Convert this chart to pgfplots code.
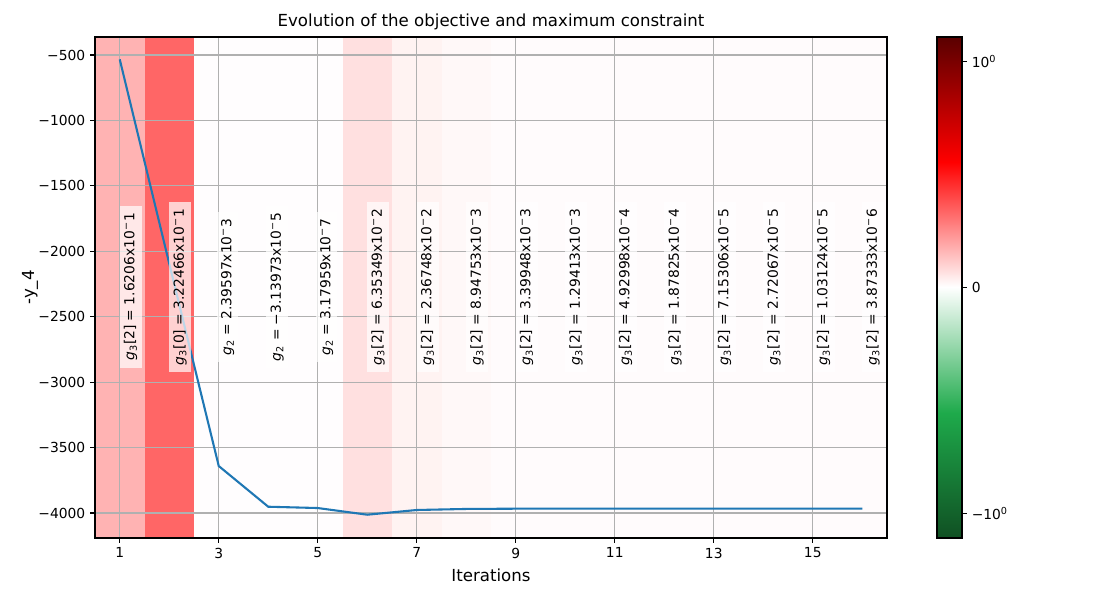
\documentclass[border=0pt]{standalone}
\usepackage{fontspec}
\setmainfont{DejaVu Sans}
\usepackage{pgfplots}
\pgfplotsset{compat=1.18}

\definecolor{lineblue}{HTML}{1F77B4}
\definecolor{gridgray}{HTML}{B0B0B0}
% band colours: maximum constraint of each iteration through the colormap
\definecolor{b1}{RGB}{255,179,179}
\definecolor{b2}{RGB}{255,102,102}
\definecolor{b3}{RGB}{255,253,254}
\definecolor{b6}{RGB}{255,224,224}
\definecolor{b7}{RGB}{255,243,242}
\definecolor{b8}{RGB}{255,248,248}
\definecolor{b9}{RGB}{255,251,252}

\pgfplotsset{
  colormap={greenwhitered}{rgb255=(16,80,35) rgb255=(30,170,75) rgb255=(255,255,255) rgb255=(255,0,0) rgb255=(90,0,0)},
  panel/.style={scale only axis, width=570.24bp, height=360.72bp,
    xmin=0.5, xmax=16.5, ymin=-4191, ymax=-362},
}

\newcommand{\gt}[2]{\textit{g}\textsubscript{3}[#1] = #2}
\newcommand{\gtwo}[1]{\textit{g}\textsubscript{2} = #1}
\newcommand{\ex}[2]{#1x10\textsuperscript{−}#2}

\begin{document}
\begin{tikzpicture}
\path[use as bounding box] (0,0) rectangle (792bp,432bp);

% coloured bands, one per iteration
\begin{axis}[panel, at={(68.4bp,44.64bp)}, anchor=south west, hide axis]
\addplot[draw=none, fill=b1] coordinates {(0.5,-4400) (0.5,-200) (1.5,-200) (1.5,-4400)} -- cycle;
\addplot[draw=none, fill=b2] coordinates {(1.5,-4400) (1.5,-200) (2.5,-200) (2.5,-4400)} -- cycle;
\addplot[draw=none, fill=b3] coordinates {(2.5,-4400) (2.5,-200) (5.5,-200) (5.5,-4400)} -- cycle;
\addplot[draw=none, fill=b6] coordinates {(5.5,-4400) (5.5,-200) (6.5,-200) (6.5,-4400)} -- cycle;
\addplot[draw=none, fill=b7] coordinates {(6.5,-4400) (6.5,-200) (7.5,-200) (7.5,-4400)} -- cycle;
\addplot[draw=none, fill=b8] coordinates {(7.5,-4400) (7.5,-200) (8.5,-200) (8.5,-4400)} -- cycle;
\addplot[draw=none, fill=b9] coordinates {(8.5,-4400) (8.5,-200) (16.5,-200) (16.5,-4400)} -- cycle;
\end{axis}

\begin{axis}[
  panel, at={(68.4bp,44.64bp)}, anchor=south west,
  font=\fontsize{10}{12}\selectfont,
  xtick={1,3,...,15},
  xticklabels={1,3,5,7,9,11,13,15},
  ytick={-4000,-3500,...,-500},
  yticklabels={−4000,−3500,−3000,−2500,−2000,−1500,−1000,−500},
  xtick pos=lower, ytick pos=left,
  tick align=outside, major tick length=3.5bp,
  tick style={black, line width=0.8bp},
  axis line style={line width=0.8bp},
  grid=major, grid style={gridgray, line width=0.8bp},
  title={Evolution of the objective and maximum constraint},
  every axis title/.style={at={(axis description cs:0.5,1)}, anchor=base, yshift=7.5bp, font=\fontsize{12}{14}\selectfont},
  xlabel={Iterations},
  every axis x label/.style={at={(axis description cs:0.5,0)}, anchor=base, yshift=-31bp, font=\fontsize{12}{14}\selectfont},
  ylabel={-y\_4},
  every axis y label/.style={at={([xshift=-46.8bp]axis description cs:0,0.5)}, anchor=center, rotate=90, font=\fontsize{12}{14}\selectfont},
]
% objective
\addplot[lineblue, line width=1.5bp, mark=none] coordinates {
  (1,-533) (2,-2094) (3,-3641) (4,-3952) (5,-3962) (6,-4013) (7,-3977) (8,-3969)
  (9,-3967) (10,-3967) (11,-3967) (12,-3967) (13,-3967) (14,-3967) (15,-3967) (16,-3967)
};

% maximum constraint of each iteration
\tikzset{cl/.style={rotate=90, anchor=center, fill=white, fill opacity=0.7, text opacity=1, inner xsep=5bp, inner ysep=3bp, font=\fontsize{10}{12}\selectfont}}
\node[cl] at (axis cs:1.22,-2272) {\gt{2}{\ex{1.6206}{1}}};
\node[cl] at (axis cs:2.22,-2272) {\gt{0}{\ex{3.22466}{1}}};
\node[cl] at (axis cs:3.18,-2272) {\gtwo{\ex{2.39597}{3}}};
\node[cl] at (axis cs:4.18,-2272) {\gtwo{\ex{−3.13973}{5}}};
\node[cl] at (axis cs:5.18,-2272) {\gtwo{\ex{3.17959}{7}}};
\node[cl] at (axis cs:6.22,-2272) {\gt{2}{\ex{6.35349}{2}}};
\node[cl] at (axis cs:7.22,-2272) {\gt{2}{\ex{2.36748}{2}}};
\node[cl] at (axis cs:8.22,-2272) {\gt{2}{\ex{8.94753}{3}}};
\node[cl] at (axis cs:9.22,-2272) {\gt{2}{\ex{3.39948}{3}}};
\node[cl] at (axis cs:10.22,-2272) {\gt{2}{\ex{1.29413}{3}}};
\node[cl] at (axis cs:11.22,-2272) {\gt{2}{\ex{4.92998}{4}}};
\node[cl] at (axis cs:12.22,-2272) {\gt{2}{\ex{1.87825}{4}}};
\node[cl] at (axis cs:13.22,-2272) {\gt{2}{\ex{7.15306}{5}}};
\node[cl] at (axis cs:14.22,-2272) {\gt{2}{\ex{2.72067}{5}}};
\node[cl] at (axis cs:15.22,-2272) {\gt{2}{\ex{1.03124}{5}}};
\node[cl] at (axis cs:16.22,-2272) {\gt{2}{\ex{3.87333}{6}}};
\end{axis}

% colour scale (symmetric log scale, linear near zero)
\begin{axis}[
  at={(674.64bp,44.64bp)}, anchor=south west,
  scale only axis, width=18bp, height=360.72bp,
  xmin=0, xmax=1, ymin=-1.11, ymax=1.11,
  xtick=\empty,
  ytick={-1,0,1},
  yticklabels={−10\textsuperscript{0},0,10\textsuperscript{0}},
  yticklabel pos=right, ytick pos=right,
  tick align=outside, major tick length=3.5bp,
  tick style={black, line width=0.8bp},
  axis line style={line width=0.8bp},
  yticklabel style={font=\fontsize{10}{12}\selectfont},
  point meta min=-1.11, point meta max=1.11,
  axis on top,
]
\addplot[surf, shader=interp, point meta=y] coordinates {
  (0,-1.11) (1,-1.11)

  (0,-0.555) (1,-0.555)

  (0,0) (1,0)

  (0,0.555) (1,0.555)

  (0,1.11) (1,1.11)
};
\end{axis}
\end{tikzpicture}
\end{document}
